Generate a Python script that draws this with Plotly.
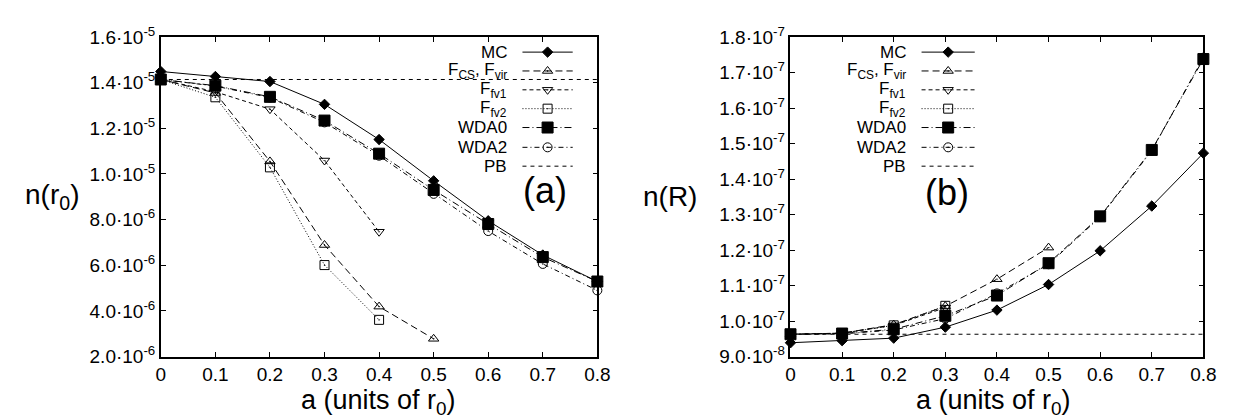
import plotly.graph_objects as go

W, H = 1234, 419
FONT = "Liberation Sans"

# ---------------- data ----------------
a_all = [0.0, 0.1, 0.2, 0.3, 0.4, 0.5, 0.6, 0.7, 0.8]
a_cs = [0.0, 0.1, 0.2, 0.3, 0.4, 0.5]
a_fv_left = [0.0, 0.1, 0.2, 0.3, 0.4]
a_fv_right = [0.0, 0.1, 0.2, 0.3]
a_pb = [0.0, 0.8]

# panel (a): n(r0)
mc_a = [14.49e-6, 14.27e-6, 14.05e-6, 13.05e-6, 11.51e-6, 9.70e-6, 7.95e-6, 6.45e-6, 5.29e-6]
cs_a = [14.14e-6, 13.55e-6, 10.55e-6, 6.89e-6, 4.19e-6, 2.78e-6]
fv1_a = [14.14e-6, 13.60e-6, 12.84e-6, 10.59e-6, 7.47e-6]
fv2_a = [14.14e-6, 13.36e-6, 10.29e-6, 6.01e-6, 3.61e-6]
wda0_a = [14.14e-6, 13.87e-6, 13.38e-6, 12.34e-6, 10.89e-6, 9.30e-6, 7.81e-6, 6.36e-6, 5.29e-6]
wda2_a = [14.14e-6, 13.85e-6, 13.35e-6, 12.26e-6, 10.80e-6, 9.13e-6, 7.50e-6, 6.06e-6, 4.90e-6]
pb_a = [14.14e-6, 14.14e-6]

# panel (b): n(R)
mc_b = [9.39e-8, 9.45e-8, 9.52e-8, 9.83e-8, 10.31e-8, 11.03e-8, 11.98e-8, 13.24e-8, 14.73e-8]
cs_b = [9.63e-8, 9.66e-8, 9.90e-8, 10.42e-8, 11.18e-8, 12.07e-8]
fv1_b = [9.63e-8, 9.66e-8, 9.88e-8, 10.38e-8]
fv2_b = [9.63e-8, 9.66e-8, 9.88e-8, 10.43e-8]
wda0_b = [9.63e-8, 9.65e-8, 9.77e-8, 10.15e-8, 10.72e-8, 11.63e-8, 12.95e-8, 14.82e-8, 17.38e-8]
wda2_b = [9.63e-8, 9.64e-8, 9.75e-8, 10.07e-8, 10.78e-8, 11.60e-8, 12.93e-8, 14.80e-8, 17.42e-8]
pb_b = [9.63e-8, 9.63e-8]

x_ticks = [0.0, 0.1, 0.2, 0.3, 0.4, 0.5, 0.6, 0.7, 0.8]
x_ticktext = ["0", "0.1", "0.2", "0.3", "0.4", "0.5", "0.6", "0.7", "0.8"]
ya_ticks = [2e-6, 4e-6, 6e-6, 8e-6, 1.0e-5, 1.2e-5, 1.4e-5, 1.6e-5]
ya_mant = ["2.0", "4.0", "6.0", "8.0", "1.0", "1.2", "1.4", "1.6"]
ya_exp = ["-6", "-6", "-6", "-6", "-5", "-5", "-5", "-5"]
yb_ticks = [9e-8, 1.0e-7, 1.1e-7, 1.2e-7, 1.3e-7, 1.4e-7, 1.5e-7, 1.6e-7, 1.7e-7, 1.8e-7]
yb_mant = ["9.0", "1.0", "1.1", "1.2", "1.3", "1.4", "1.5", "1.6", "1.7", "1.8"]
yb_exp = ["-8", "-7", "-7", "-7", "-7", "-7", "-7", "-7", "-7", "-7"]

names = ["MC", "F<sub>CS</sub>, F<sub>vir</sub>", "F<sub>fv1</sub>", "F<sub>fv2</sub>",
         "WDA0", "WDA2", "PB"]


def sci_labels(mants, exps):
    return ["%s·10<sup>%s</sup>" % (m, e) for m, e in zip(mants, exps)]


# styles per series
styles = [
    dict(dash="solid", symbol="diamond", size=8),
    dict(dash="7px,4px", symbol="triangle-up-open-dot", size=9),
    dict(dash="4px,3px", symbol="triangle-down-open-dot", size=9),
    dict(dash="1px,2px", symbol="square-open-dot", size=9),
    dict(dash="7px,3px,1px,3px", symbol="square", size=11),
    dict(dash="5px,3px,1px,3px", symbol="circle-open-dot", size=9),
    dict(dash="4px,4px", symbol=None, size=0),
]

panel_a = [(a_all, mc_a), (a_cs, cs_a), (a_fv_left, fv1_a), (a_fv_left, fv2_a),
           (a_all, wda0_a), (a_all, wda2_a), (a_pb, pb_a)]
panel_b = [(a_all, mc_b), (a_cs, cs_b), (a_fv_right, fv1_b), (a_fv_right, fv2_b),
           (a_all, wda0_b), (a_all, wda2_b), (a_pb, pb_b)]

fig = go.Figure()


def add_series(panel, xa, ya):
    for (xs, ys), st, nm in zip(panel, styles, names):
        mode = "lines+markers" if st["symbol"] else "lines"
        tr = go.Scatter(x=xs, y=ys, mode=mode, name=nm, xaxis=xa, yaxis=ya,
                        line=dict(color="black", width=1, dash=st["dash"]),
                        showlegend=False, cliponaxis=False)
        if st["symbol"]:
            tr.marker = dict(symbol=st["symbol"], size=st["size"], color="black",
                             line=dict(color="black", width=1))
        fig.add_trace(tr)


add_series(panel_a, "x", "y")
add_series(panel_b, "x2", "y2")


# ---------------- legends (drawn in pixel space overlay) ----------------
def px(x):
    return x / W


def py(y):
    return 1 - y / H


annotations = []
row_y = [33, 53, 73, 93, 113, 134, 154]
legend_specs = [(503, 517, 568), (908, 922, 976)]
for text_right, s0, s1 in legend_specs:
    for st, nm, ry in zip(styles, names, row_y):
        annotations.append(dict(text=nm, x=px(text_right), y=py(ry), xref="paper", yref="paper",
                                xanchor="right", yanchor="middle", showarrow=False,
                                font=dict(family=FONT, size=17, color="black")))
        fig.add_trace(go.Scatter(x=[s0, s1], y=[ry, ry], mode="lines", xaxis="x3", yaxis="y3",
                                 line=dict(color="black", width=1, dash=st["dash"]),
                                 showlegend=False, hoverinfo="skip"))
        if st["symbol"]:
            fig.add_trace(go.Scatter(x=[(s0 + s1) / 2], y=[ry], mode="markers", xaxis="x3", yaxis="y3",
                                     marker=dict(symbol=st["symbol"], size=st["size"], color="black",
                                                 line=dict(color="black", width=1)),
                                     showlegend=False, hoverinfo="skip", cliponaxis=False))

# panel labels and axis titles
for txt, x, y, size in [("(a)", 540, 180, 36), ("(b)", 948, 182, 36),
                        ("n(r<sub>0</sub>)", 40, 186, 28), ("n(R)", 667, 186, 28),
                        ("a (units of r<sub>0</sub>)", 371, 404, 27),
                        ("a (units of r<sub>0</sub>)", 995, 404, 27)]:
    annotations.append(dict(text=txt, x=px(x), y=py(y), xref="paper", yref="paper",
                            xanchor="center", yanchor="middle", showarrow=False,
                            font=dict(family=FONT, size=size, color="black")))

ax_common = dict(showline=True, linecolor="black", linewidth=1.5, mirror="ticks",
                 ticks="inside", ticklen=5, tickcolor="black", tickwidth=1,
                 showgrid=False, zeroline=False,
                 tickfont=dict(family=FONT, size=19, color="black"))

L0, L1 = 150, 593
R0, R1 = 789, 1208
T, B = 17, 356

fig.update_layout(
    width=W, height=H,
    margin=dict(l=0, r=0, t=0, b=0),
    paper_bgcolor="white", plot_bgcolor="rgba(0,0,0,0)",
    showlegend=False,
    annotations=annotations,
    xaxis=dict(domain=[px(L0), px(L1)], range=[0, 0.8], anchor="y",
               tickvals=x_ticks, ticktext=x_ticktext, **ax_common),
    yaxis=dict(domain=[py(B), py(T)], range=[2e-6, 1.6e-5], anchor="x",
               tickvals=ya_ticks, ticktext=sci_labels(ya_mant, ya_exp), **ax_common),
    xaxis2=dict(domain=[px(R0), px(R1)], range=[0, 0.8], anchor="y2",
                tickvals=x_ticks, ticktext=x_ticktext, **ax_common),
    yaxis2=dict(domain=[py(B), py(T)], range=[9e-8, 1.8e-7], anchor="x2",
                tickvals=yb_ticks, ticktext=sci_labels(yb_mant, yb_exp), **ax_common),
    xaxis3=dict(domain=[0, 1], range=[0, W], anchor="y3", visible=False, fixedrange=True),
    yaxis3=dict(domain=[0, 1], range=[H, 0], anchor="x3", visible=False, fixedrange=True),
)

fig.write_html("out.html")
